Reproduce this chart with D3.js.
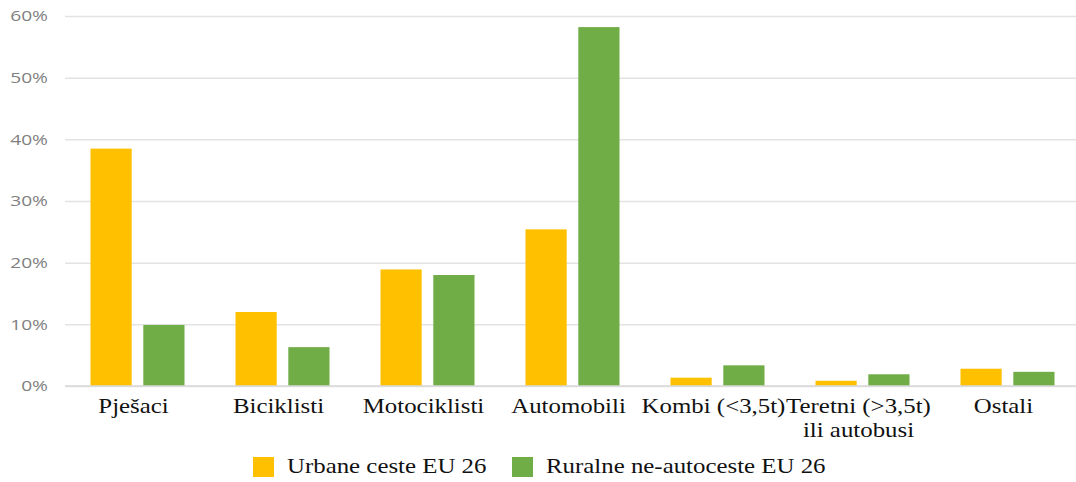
<!DOCTYPE html>
<html>
<head>
<meta charset="utf-8">
<script src="https://cdn.jsdelivr.net/npm/d3@7"></script>
<style>
  html, body { margin: 0; padding: 0; background: #fff; }
  svg { display: block; }
</style>
</head>
<body>
<svg id="chart"></svg>
<script>
// categories (multi-line labels split with \n)
const categories = ["Pješaci", "Biciklisti", "Motociklisti", "Automobili", "Kombi (<3,5t)", "Teretni (>3,5t)\nili autobusi", "Ostali"];
const seriesNames = ["Urbane ceste EU 26", "Ruralne ne-autoceste EU 26"];
const urbane = [38.5, 12.0, 18.9, 25.4, 1.35, 0.85, 2.8];
const ruralne = [9.9, 6.3, 18.0, 58.2, 3.35, 1.9, 2.3];
const yTicks = [0, 10, 20, 30, 40, 50, 60];
const colors = ["#FFC000", "#70AD47"];

const width = 1076, height = 482;
const margin = {top: 16, right: -4, bottom: 96, left: 65};
// the source image is stretched sideways a bit, so text gets a small x-scale
const stretch = 1.13;
const serif = "'Liberation Serif', 'Times New Roman', serif";

const svg = d3.select("#chart").attr("width", width).attr("height", height);

const x = d3.scaleBand()
    .domain(categories)
    .range([margin.left, width - margin.right])
    .paddingInner(0)
    .paddingOuter(0);

const xSub = d3.scaleBand()
    .domain(seriesNames)
    .range([25.5, x.bandwidth() - 25.5])
    .paddingInner(0.22);

const y = d3.scaleLinear()
    .domain([0, 60])
    .range([height - margin.bottom, margin.top]);

// gridlines + tick labels
const yAxis = svg.append("g")
    .attr("transform", `translate(${margin.left},0)`)
    .call(d3.axisLeft(y).tickValues(yTicks).tickFormat(d => d + "%")
        .tickSize(-(width - margin.left)));
yAxis.select(".domain").remove();
yAxis.selectAll(".tick line").attr("stroke", "#e3e3e3").attr("stroke-width", 1.5);
yAxis.selectAll(".tick text")
    .attr("x", 0)
    .attr("transform", "translate(-17,0) scale(1.28,1)")
    .attr("fill", "#7f7f7f")
    .attr("font-family", "'Open Sans', sans-serif")
    .attr("font-size", 15);

// bars
const data = categories.map((c, i) => ({cat: c, values: [urbane[i], ruralne[i]]}));
const groups = svg.append("g").selectAll("g")
    .data(data)
    .join("g")
    .attr("transform", d => `translate(${x(d.cat)},0)`);

groups.selectAll("rect")
    .data(d => d.values.map((v, j) => ({name: seriesNames[j], value: v, j})))
    .join("rect")
    .attr("x", d => xSub(d.name))
    .attr("width", xSub.bandwidth())
    .attr("y", d => y(d.value))
    .attr("height", d => y(0) - y(d.value))
    .attr("fill", d => colors[d.j]);

// baseline
svg.append("line")
    .attr("x1", margin.left).attr("x2", width)
    .attr("y1", y(0)).attr("y2", y(0))
    .attr("stroke", "#d9d9d9").attr("stroke-width", 1.5);

// category labels
const labels = svg.append("g")
    .attr("font-family", serif)
    .attr("font-size", 22)
    .attr("fill", "#111")
    .attr("text-anchor", "middle");

labels.selectAll("text")
    .data(categories)
    .join("text")
    .attr("transform", d => `translate(${x(d) + x.bandwidth() / 2 - 4},413) scale(${stretch},1)`)
    .each(function(d) {
        d3.select(this).selectAll("tspan")
            .data(d.split("\n"))
            .join("tspan")
            .attr("x", 0)
            .attr("dy", (l, k) => k === 0 ? 0 : 24)
            .text(l => l);
    });

// legend
const legend = svg.append("g")
    .attr("font-family", serif)
    .attr("font-size", 22)
    .attr("fill", "#111");
const legendX = [253, 512];
seriesNames.forEach((name, i) => {
    const g = legend.append("g").attr("transform", `translate(${legendX[i]},457)`);
    g.append("rect").attr("width", 21).attr("height", 20).attr("fill", colors[i]);
    g.append("text")
        .attr("transform", `translate(34,16) scale(${stretch},1)`)
        .text(name);
});
</script>
</body>
</html>
